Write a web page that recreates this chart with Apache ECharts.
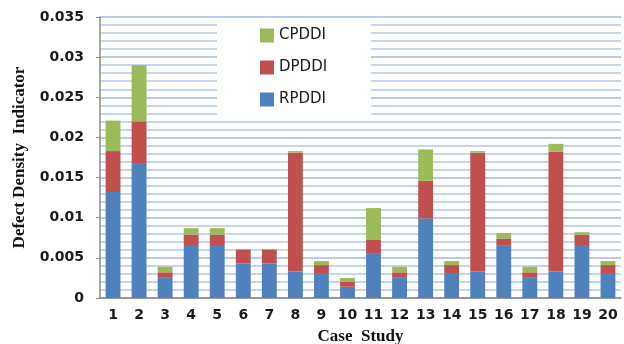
<!DOCTYPE html>
<html>
<head>
<meta charset="utf-8">
<script src="https://cdn.jsdelivr.net/npm/echarts@6/dist/echarts.min.js"></script>
</head>
<body style="margin:0;background:#ffffff">
<div id="chart" style="width:624px;height:344px"></div>
<script>
// Case study numbers along the x axis
const cases = ['1','2','3','4','5','6','7','8','9','10','11','12','13','14','15','16','17','18','19','20'];

// Defect density components per case study (stacked)
const RPDDI = [0.0132,0.0167,0.0026,0.0066,0.0066,0.0043,0.0043,0.0033,0.0030,0.0014,0.0055,0.0026,0.0099,0.0030,0.0033,0.0065,0.0026,0.0033,0.0066,0.0030];
const DPDDI = [0.0051,0.0053,0.0006,0.0013,0.0013,0.0017,0.0017,0.0148,0.0011,0.0006,0.0018,0.0006,0.0047,0.0011,0.0148,0.0009,0.0006,0.0149,0.0013,0.0011];
const CPDDI = [0.0038,0.0070,0.0007,0.0008,0.0008,0.0001,0.0001,0.0002,0.0005,0.0005,0.0039,0.0007,0.0039,0.0005,0.0002,0.0007,0.0007,0.0010,0.0003,0.0005];

// Y axis range, labelled step and fine rule step
const yMin = 0, yMax = 0.035, yStep = 0.005, yFineStep = 0.001;

const chart = echarts.init(document.getElementById('chart'));

const gridColor = '#b4c9ea';
const axisColor = '#8a8a8a';
const labelFont = { fontFamily: 'DejaVu Sans', fontSize: 14, fontWeight: 'bold', color: '#1a1a1a' };

chart.setOption({
  animation: false,
  grid: { left: 100, right: 3, top: 17, bottom: 46, outerBoundsMode: 'none' },
  legend: {
    orient: 'vertical',
    left: 217,
    top: 20,
    data: ['CPDDI', 'DPDDI', 'RPDDI'],
    itemWidth: 14,
    itemHeight: 14,
    itemGap: 17,
    padding: [8, 44, 8, 43],
    backgroundColor: '#ffffff',
    icon: 'rect',
    textStyle: { fontFamily: 'DejaVu Sans', fontSize: 15, color: '#1a1a1a' }
  },
  xAxis: {
    type: 'category',
    data: cases,
    name: 'Case  Study',
    nameLocation: 'middle',
    nameGap: 30,
    nameTextStyle: { fontFamily: 'Liberation Serif', fontSize: 17, fontWeight: 'bold', color: '#111' },
    axisLine: { lineStyle: { color: axisColor, width: 1.5 } },
    axisTick: { show: false },
    axisLabel: Object.assign({ margin: 10, interval: 0 }, labelFont)
  },
  yAxis: [
    {
      // labelled value axis
      type: 'value',
      min: yMin,
      max: yMax,
      interval: yStep,
      name: 'Defect Density  Indicator',
      nameLocation: 'middle',
      nameRotate: 90,
      nameGap: 72,
      nameTextStyle: { fontFamily: 'Liberation Serif', fontSize: 17, fontWeight: 'bold', color: '#111' },
      axisLine: { show: true, lineStyle: { color: axisColor, width: 1.5 } },
      axisTick: { show: true, length: 4 },
      axisLabel: Object.assign({ margin: 16 }, labelFont),
      splitLine: { show: true, lineStyle: { color: gridColor, width: 1.5 } }
    },
    {
      // fine horizontal rules every 0.001
      type: 'value',
      position: 'left',
      min: yMin,
      max: yMax,
      interval: yFineStep,
      axisLine: { show: false },
      axisTick: { show: false },
      axisLabel: { show: false },
      splitLine: { show: true, lineStyle: { color: gridColor, width: 1.5 } }
    }
  ],
  series: [
    { name: 'RPDDI', type: 'bar', stack: 'ddi', data: RPDDI, barWidth: '57%', itemStyle: { color: '#4f81bd' } },
    { name: 'DPDDI', type: 'bar', stack: 'ddi', data: DPDDI, itemStyle: { color: '#c0504d' } },
    { name: 'CPDDI', type: 'bar', stack: 'ddi', data: CPDDI, itemStyle: { color: '#9bbb59' } }
  ]
});
</script>
</body>
</html>
